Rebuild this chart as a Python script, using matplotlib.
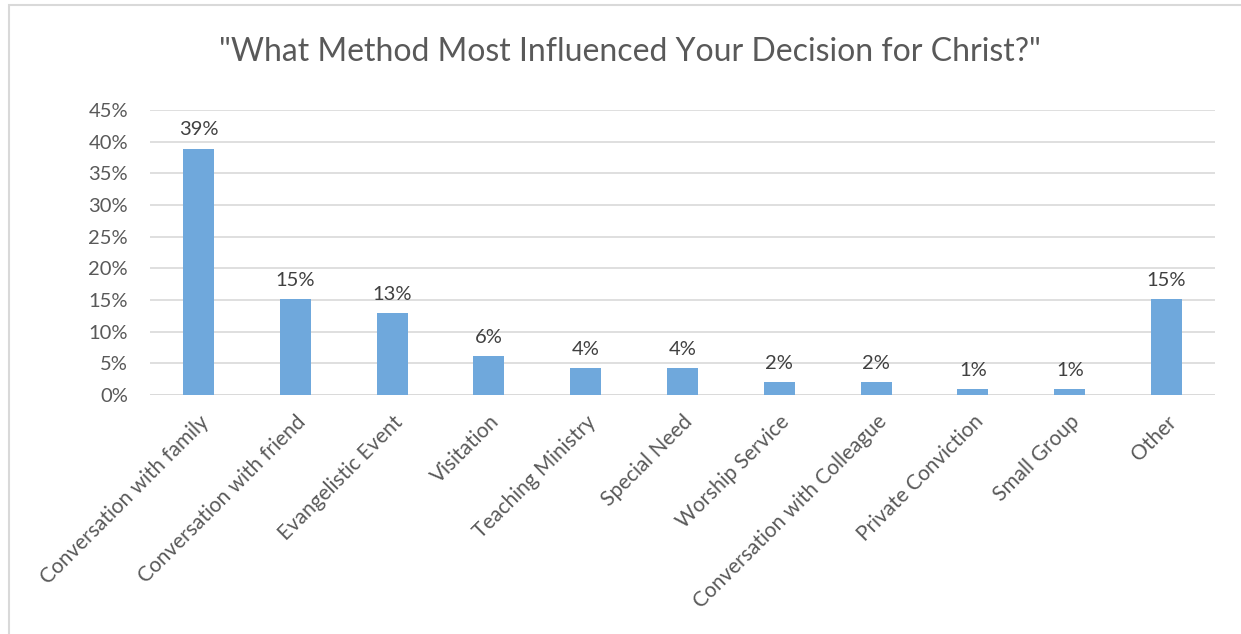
import matplotlib.pyplot as plt
import matplotlib.patches as patches
import numpy as np

plt.rcParams['font.family'] = ['Lato', 'DejaVu Sans']

categories = ['Conversation with family', 'Conversation with friend', 'Evangelistic Event',
              'Visitation', 'Teaching Ministry', 'Special Need', 'Worship Service',
              'Conversation with Colleague', 'Private Conviction', 'Small Group', 'Other']
values = [38.9, 15.1, 13.0, 6.2, 4.2, 4.2, 2.1, 2.1, 0.9, 0.9, 15.1]
labels = ['39%', '15%', '13%', '6%', '4%', '4%', '2%', '2%', '1%', '1%', '15%']
yticks = [0, 5, 10, 15, 20, 25, 30, 35, 40, 45]

fig = plt.figure(figsize=(12.41, 6.34), dpi=100)
ax = fig.add_axes([0.121, 0.377, 0.858, 0.4495])

# chart border
fig.patches.append(patches.Rectangle((0.007, -0.01), 1.0, 1.002, transform=fig.transFigure,
                                     fill=False, edgecolor='#d9d9d9', linewidth=1.5))

x = np.arange(len(categories))
ax.bar(x, values, width=0.32, color='#6FA8DC', zorder=3)
for xi, v, lab in zip(x, values, labels):
    ax.text(xi, v + 1.6, lab, ha='center', va='bottom', fontsize=14.5, color='#404040')

ax.set_xlim(-0.5, len(categories) - 0.5)
ax.set_ylim(0, 45)
ax.set_yticks(yticks)
ax.set_yticklabels([f'{t}%' for t in yticks], fontsize=14.5, color='#595959')
ax.set_xticks(x)
ax.set_xticklabels(categories, rotation=45, ha='right', rotation_mode='anchor',
                   fontsize=15, color='#595959')
ax.tick_params(axis='y', length=0, pad=16)
ax.tick_params(axis='x', length=0, pad=12)
ax.grid(axis='y', color='#d9d9d9', linewidth=1.2, zorder=0)
for s in ax.spines.values():
    s.set_visible(False)
ax.axhline(0, color='#d9d9d9', linewidth=1.2, zorder=2)

fig.text(0.508, 0.918, '"What Method Most Influenced Your Decision for Christ?"',
         ha='center', va='center', fontsize=23, color='#595959')

plt.savefig('out.png', dpi=100)
